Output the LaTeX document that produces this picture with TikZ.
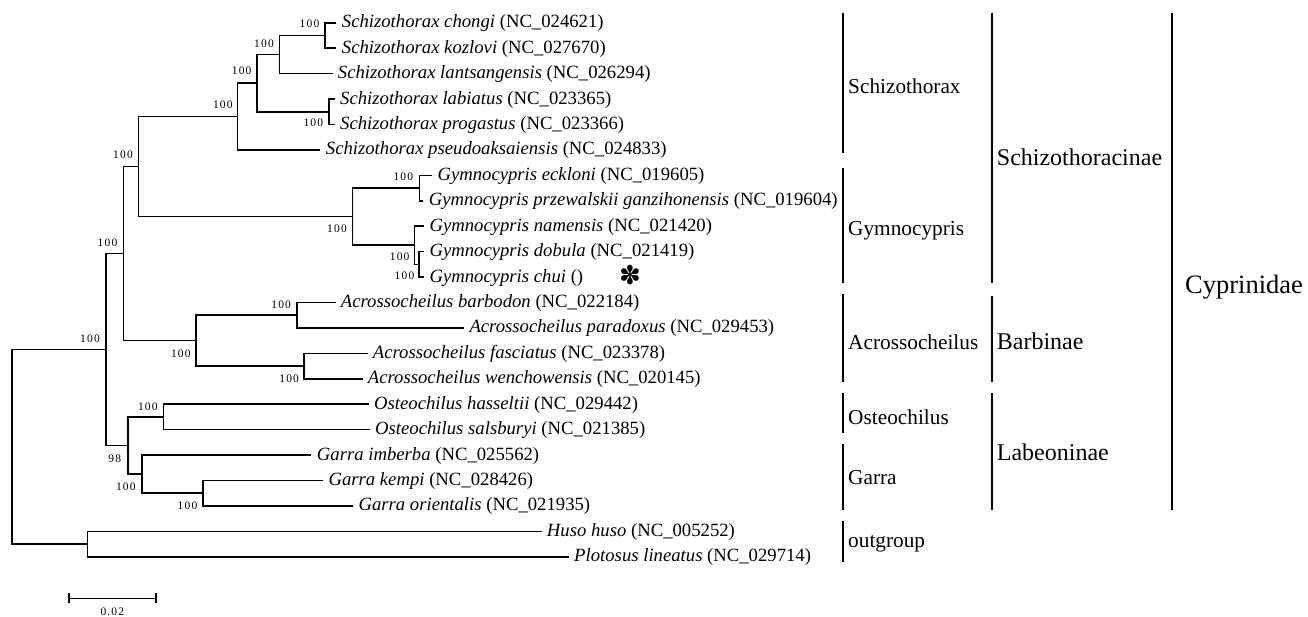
\documentclass[tikz,border=0pt]{standalone}
\usepackage{fontspec}
\setmainfont{Liberation Serif}
\newfontfamily\bsfont[LetterSpace=10]{Liberation Serif}
\newfontfamily\symfont{DejaVu Sans}
\begin{document}
\begin{tikzpicture}[x=1pt,y=-1pt,
  br/.style={draw=black, line width=1.6pt},
  bar/.style={draw=black, line width=2.3pt},
  tx/.style={inner sep=0pt, anchor=base west, font=\fontsize{18.7}{20}\selectfont},
  bs/.style={inner sep=0pt, font=\bsfont\fontsize{11.5}{12}\selectfont},
  grp/.style={inner sep=0pt, anchor=base west, font=\fontsize{21.3}{22}\selectfont},
  sub/.style={inner sep=0pt, anchor=base west, font=\fontsize{24}{25}\selectfont},
  fam/.style={inner sep=0pt, anchor=base west, font=\fontsize{26.5}{27}\selectfont}]
\useasboundingbox (0,0) rectangle (1308,616);

% ---------- leaf texts ----------
\node[tx] (T1)  at (341.7,27.7)  {\textit{Schizothorax chongi} (NC\_024621)};
\node[tx] (T2)  at (341.7,53.1)  {\textit{Schizothorax kozlovi} (NC\_027670)};
\node[tx] (T3)  at (337.7,78.6)  {\textit{Schizothorax lantsangensis} (NC\_026294)};
\node[tx] (T4)  at (340.0,104.0) {\textit{Schizothorax labiatus} (NC\_023365)};
\node[tx] (T5)  at (340.0,129.4) {\textit{Schizothorax progastus} (NC\_023366)};
\node[tx] (T6)  at (325.7,154.9) {\textit{Schizothorax pseudoaksaiensis} (NC\_024833)};
\node[tx] (T7)  at (437.3,180.3) {\textit{Gymnocypris eckloni} (NC\_019605)};
\node[tx] (T8)  at (428.7,205.7) {\textit{Gymnocypris przewalskii ganzihonensis} (NC\_019604)};
\node[tx] (T9)  at (429.3,231.1) {\textit{Gymnocypris namensis} (NC\_021420)};
\node[tx] (T10) at (429.3,256.6) {\textit{Gymnocypris dobula} (NC\_021419)};
\node[tx] (T11) at (429.3,282.0) {\textit{Gymnocypris chui} ()};
\node[tx] (T12) at (340.7,307.4) {\textit{Acrossocheilus barbodon} (NC\_022184)};
\node[tx] (T13) at (469.3,332.9) {\textit{Acrossocheilus paradoxus} (NC\_029453)};
\node[tx] (T14) at (372.7,358.3) {\textit{Acrossocheilus fasciatus} (NC\_023378)};
\node[tx] (T15) at (367.7,383.7) {\textit{Acrossocheilus wenchowensis} (NC\_020145)};
\node[tx] (T16) at (374.0,409.2) {\textit{Osteochilus hasseltii} (NC\_029442)};
\node[tx] (T17) at (375.0,434.6) {\textit{Osteochilus salsburyi} (NC\_021385)};
\node[tx] (T18) at (316.7,460.0) {\textit{Garra imberba} (NC\_025562)};
\node[tx] (T19) at (328.3,485.5) {\textit{Garra kempi} (NC\_028426)};
\node[tx] (T20) at (358.3,510.9) {\textit{Garra orientalis} (NC\_021935)};
\node[tx] (T21) at (546.7,536.3) {\textit{Huso huso} (NC\_005252)};
\node[tx] (T22) at (574.0,561.7) {\textit{Plotosus lineatus} (NC\_029714)};

% ---------- leaf tips ----------
\coordinate (L1)  at (335.5,22.7);
\coordinate (L2)  at (335.5,48.1);
\coordinate (L3)  at (332.5,73.6);
\coordinate (L4)  at (334.5,99.0);
\coordinate (L5)  at (334.5,124.4);
\coordinate (L6)  at (320.0,149.9);
\coordinate (L7)  at (431.7,175.3);
\coordinate (L8)  at (423.3,200.7);
\coordinate (L9)  at (423.8,226.1);
\coordinate (L10) at (423.8,251.6);
\coordinate (L11) at (423.8,277.0);
\coordinate (L12) at (335.5,302.4);
\coordinate (L13) at (463.5,327.9);
\coordinate (L14) at (367.5,353.3);
\coordinate (L15) at (362.5,378.7);
\coordinate (L16) at (368.5,404.2);
\coordinate (L17) at (369.5,429.6);
\coordinate (L18) at (311.0,455.0);
\coordinate (L19) at (322.8,480.5);
\coordinate (L20) at (353.0,505.9);
\coordinate (L21) at (541.5,531.3);
\coordinate (L22) at (568.5,556.7);

% ---------- internal nodes ----------
\coordinate (n1)  at (325.0,35.4);
\coordinate (n2)  at (279.3,54.5);
\coordinate (n3)  at (329.0,111.7);
\coordinate (n4)  at (256.7,83.1);
\coordinate (n5)  at (237.3,116.5);
\coordinate (n6)  at (419.3,188.0);
\coordinate (n7)  at (419.0,264.3);
\coordinate (n8)  at (414.3,245.2);
\coordinate (n9)  at (352.3,216.6);
\coordinate (n10) at (138.3,166.6);
\coordinate (n11) at (296.7,315.2);
\coordinate (n12) at (304.0,366.0);
\coordinate (n13) at (195.7,340.6);
\coordinate (n14) at (123.3,253.6);
\coordinate (n15) at (163.3,416.9);
\coordinate (n16) at (202.7,493.2);
\coordinate (n17) at (141.7,474.1);
\coordinate (n18) at (127.7,445.5);
\coordinate (n19) at (106.0,349.5);
\coordinate (n20) at (87.3,544.0);
\coordinate (root) at (11.7,446.8);

% ---------- branches ----------
\draw[br] (n1) |- (L1);  \draw[br] (n1) |- (L2);
\draw[br] (n2) |- (n1);  \draw[br] (n2) |- (L3);
\draw[br] (n3) |- (L4);  \draw[br] (n3) |- (L5);
\draw[br] (n4) |- (n2);  \draw[br] (n4) |- (n3);
\draw[br] (n5) |- (n4);  \draw[br] (n5) |- (L6);
\draw[br] (n6) |- (L7);  \draw[br] (n6) |- (L8);
\draw[br] (n7) |- (L10); \draw[br] (n7) |- (L11);
\draw[br] (n8) |- (L9);  \draw[br] (n8) |- (n7);
\draw[br] (n9) |- (n6);  \draw[br] (n9) |- (n8);
\draw[br] (n10) |- (n5); \draw[br] (n10) |- (n9);
\draw[br] (n11) |- (L12); \draw[br] (n11) |- (L13);
\draw[br] (n12) |- (L14); \draw[br] (n12) |- (L15);
\draw[br] (n13) |- (n11); \draw[br] (n13) |- (n12);
\draw[br] (n14) |- (n10); \draw[br] (n14) |- (n13);
\draw[br] (n15) |- (L16); \draw[br] (n15) |- (L17);
\draw[br] (n16) |- (L19); \draw[br] (n16) |- (L20);
\draw[br] (n17) |- (L18); \draw[br] (n17) |- (n16);
\draw[br] (n18) |- (n15); \draw[br] (n18) |- (n17);
\draw[br] (n19) |- (n14); \draw[br] (n19) |- (n18);
\draw[br] (n20) |- (L21); \draw[br] (n20) |- (L22);
\draw[br] (root) |- (n19); \draw[br] (root) |- (n20);

% ---------- bootstrap values ----------
\node[bs] (b1)  at (309.5,24.0)  {100};
\node[bs] (b2)  at (264.0,43.3)  {100};
\node[bs] (b4)  at (241.7,71.0)  {100};
\node[bs] (b5)  at (222.8,105.0) {100};
\node[bs] (b3)  at (313.3,122.7) {100};
\node[bs] (b10) at (123.0,155.0) {100};
\node[bs] (b14) at (107.5,242.3) {100};
\node[bs] (b6)  at (403.3,176.7) {100};
\node[bs] (b9)  at (337.0,228.3) {100};
\node[bs] (b8)  at (399.7,256.7) {100};
\node[bs] (b7)  at (404.5,276.0) {100};
\node[bs] (b11) at (281.2,304.3) {100};
\node[bs] (b13) at (180.8,353.3) {100};
\node[bs] (b12) at (289.2,378.3) {100};
\node[bs] (b19) at (90.0,338.3)  {100};
\node[bs] (b15) at (147.8,406.7) {100};
\node[bs] (b18) at (114.7,458.3) {98};
\node[bs] (b17) at (125.8,486.7) {100};
\node[bs] (b16) at (187.5,506.0) {100};

% ---------- asterisk ----------
\node[inner sep=0pt, font=\symfont\fontsize{26}{26}\selectfont] (star) at (630.0,274.7) {✽};

% ---------- group bars ----------
\coordinate (g1a) at (843.3,12.7);  \coordinate (g1b) at (843.3,152.7);
\coordinate (g2a) at (843.3,168.3); \coordinate (g2b) at (843.3,282.7);
\coordinate (g3a) at (843.3,294.0); \coordinate (g3b) at (843.3,381.7);
\coordinate (g4a) at (843.3,393.3); \coordinate (g4b) at (843.3,433.3);
\coordinate (g5a) at (843.3,444.3); \coordinate (g5b) at (843.3,510.0);
\coordinate (g6a) at (843.3,521.0); \coordinate (g6b) at (843.3,561.7);
\coordinate (s1a) at (991.7,12.7);  \coordinate (s1b) at (991.7,282.7);
\coordinate (s2a) at (991.7,296.0); \coordinate (s2b) at (991.7,381.7);
\coordinate (s3a) at (991.7,393.3); \coordinate (s3b) at (991.7,510.0);
\coordinate (f1a) at (1172.3,12.7); \coordinate (f1b) at (1172.3,510.0);
\draw[bar] (g1a) -- (g1b); \draw[bar] (g2a) -- (g2b); \draw[bar] (g3a) -- (g3b);
\draw[bar] (g4a) -- (g4b); \draw[bar] (g5a) -- (g5b); \draw[bar] (g6a) -- (g6b);
\draw[bar] (s1a) -- (s1b); \draw[bar] (s2a) -- (s2b); \draw[bar] (s3a) -- (s3b);
\draw[bar] (f1a) -- (f1b);

\node[grp] (G1) at (848.0,93.3)  {Schizothorax};
\node[grp] (G2) at (848.0,235.0) {Gymnocypris};
\node[grp] (G3) at (848.0,349.3) {Acrossocheilus};
\node[grp] (G4) at (848.0,424.0) {Osteochilus};
\node[grp] (G5) at (848.0,484.0) {Garra};
\node[grp] (G6) at (848.0,547.7) {outgroup};
\node[sub] (S1) at (996.7,165.0) {Schizothoracinae};
\node[sub] (S2) at (996.7,349.0) {Barbinae};
\node[sub] (S3) at (996.7,460.0) {Labeoninae};
\node[fam] (F1) at (1185.0,293.3) {Cyprinidae};

% ---------- scale bar ----------
\coordinate (sbL) at (69.0,598.3);
\coordinate (sbR) at (155.7,598.3);
\draw[br] (sbL) -- (sbR);
\draw[br] (sbL) ++(0,-5) -- ++(0,10);
\draw[br] (sbR) ++(0,-5) -- ++(0,10);
\node[bs] (sbT) at (112.3,611.7) {0.02};
\end{tikzpicture}
\end{document}
